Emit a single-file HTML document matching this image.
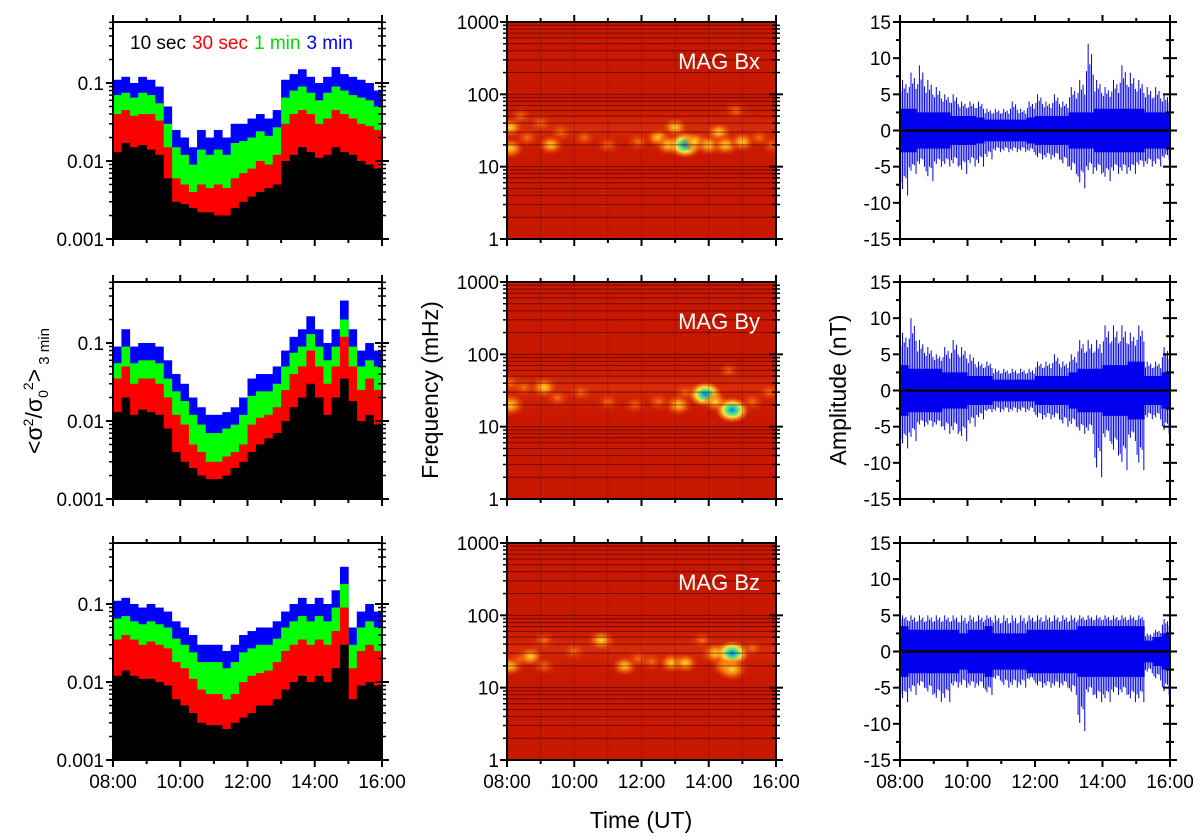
<!DOCTYPE html>
<html><head><meta charset="utf-8"><style>
body{margin:0;background:#fff;width:1200px;height:837px;overflow:hidden}
svg{display:block;font-family:"Liberation Sans",sans-serif}
</style></head><body>
<svg id="fig" width="1200" height="837" viewBox="0 0 1200 837" xmlns="http://www.w3.org/2000/svg">
<defs>
<radialGradient id="hot"><stop offset="0" stop-color="#ffd830"/><stop offset="0.4" stop-color="#ff9010" stop-opacity="0.85"/><stop offset="1" stop-color="#e03000" stop-opacity="0"/></radialGradient>
<radialGradient id="warm"><stop offset="0" stop-color="#ff8010" stop-opacity="0.85"/><stop offset="1" stop-color="#e03000" stop-opacity="0"/></radialGradient>
<radialGradient id="peak"><stop offset="0" stop-color="#1070ff"/><stop offset="0.25" stop-color="#20e0a0"/><stop offset="0.55" stop-color="#ffe040"/><stop offset="1" stop-color="#ff8000" stop-opacity="0"/></radialGradient>
<linearGradient id="band" x1="0" y1="0" x2="0" y2="1"><stop offset="0" stop-color="#d82000" stop-opacity="0"/><stop offset="0.5" stop-color="#e23810" stop-opacity="0.6"/><stop offset="1" stop-color="#d82000" stop-opacity="0"/></linearGradient>
</defs>
</svg>
<script>
// ---- data ----
const timeStartH = 8, timeEndH = 16;
const xTickLabels = ["08:00","10:00","12:00","14:00","16:00"];
const varTickLabels = ["0.1","0.01","0.001"];
const freqTickLabels = ["1000","100","10","1"];
const ampTickLabels = ["15","10","5","0","-5","-10","-15"];
const legendLabels = ["10 sec","30 sec","1 min","3 min"];
const components = ["MAG Bx","MAG By","MAG Bz"];

const blue1 = [0.11,0.12,0.10,0.12,0.11,0.09,0.05,0.025,0.02,0.015,0.025,0.02,0.025,0.02,0.03,0.03,0.035,0.04,0.035,0.045,0.11,0.13,0.15,0.12,0.10,0.12,0.16,0.13,0.12,0.11,0.10,0.08];
const green1 = [0.07,0.075,0.065,0.075,0.07,0.055,0.03,0.015,0.012,0.009,0.014,0.012,0.014,0.012,0.017,0.018,0.02,0.024,0.021,0.027,0.065,0.08,0.09,0.075,0.06,0.075,0.09,0.08,0.07,0.065,0.06,0.05];
const red1 = [0.04,0.045,0.038,0.04,0.04,0.033,0.015,0.006,0.005,0.004,0.005,0.0045,0.005,0.0045,0.006,0.007,0.008,0.01,0.009,0.012,0.03,0.04,0.045,0.04,0.03,0.035,0.045,0.04,0.035,0.03,0.028,0.025];
const black1 = [0.013,0.017,0.015,0.016,0.014,0.012,0.006,0.003,0.0028,0.0025,0.0022,0.0022,0.002,0.002,0.0025,0.003,0.0035,0.004,0.0045,0.005,0.01,0.012,0.015,0.013,0.011,0.012,0.015,0.013,0.012,0.01,0.009,0.008];

const blue2 = [0.09,0.15,0.09,0.1,0.1,0.09,0.06,0.04,0.03,0.02,0.015,0.012,0.012,0.013,0.015,0.02,0.035,0.04,0.04,0.05,0.08,0.12,0.15,0.22,0.15,0.1,0.15,0.35,0.15,0.08,0.1,0.08];
const green2 = [0.055,0.09,0.055,0.06,0.06,0.055,0.035,0.024,0.018,0.012,0.009,0.007,0.007,0.008,0.009,0.012,0.021,0.024,0.024,0.03,0.05,0.075,0.09,0.13,0.09,0.06,0.09,0.2,0.09,0.05,0.06,0.05];
const red2 = [0.035,0.05,0.03,0.035,0.035,0.03,0.02,0.012,0.009,0.005,0.004,0.003,0.003,0.0035,0.004,0.005,0.009,0.011,0.012,0.015,0.025,0.04,0.05,0.08,0.05,0.03,0.05,0.12,0.05,0.025,0.035,0.025];
const black2 = [0.013,0.02,0.012,0.014,0.013,0.012,0.008,0.004,0.003,0.0025,0.002,0.0018,0.0018,0.002,0.0025,0.003,0.004,0.005,0.006,0.007,0.01,0.015,0.02,0.03,0.02,0.012,0.02,0.035,0.018,0.01,0.012,0.009];

const blue3 = [0.11,0.12,0.1,0.09,0.1,0.09,0.08,0.06,0.05,0.04,0.03,0.03,0.03,0.025,0.03,0.04,0.045,0.05,0.05,0.06,0.08,0.1,0.12,0.1,0.12,0.1,0.15,0.3,0.05,0.08,0.1,0.08];
const green3 = [0.065,0.07,0.06,0.055,0.06,0.055,0.05,0.036,0.03,0.024,0.018,0.018,0.018,0.015,0.018,0.024,0.027,0.03,0.03,0.036,0.05,0.06,0.07,0.06,0.07,0.06,0.09,0.18,0.03,0.05,0.06,0.05];
const red3 = [0.035,0.04,0.035,0.03,0.033,0.03,0.027,0.018,0.015,0.011,0.008,0.007,0.007,0.006,0.007,0.01,0.012,0.013,0.014,0.018,0.025,0.03,0.035,0.03,0.035,0.03,0.045,0.09,0.015,0.025,0.03,0.025];
const black3 = [0.012,0.014,0.012,0.011,0.011,0.01,0.009,0.006,0.005,0.004,0.003,0.0028,0.0028,0.0025,0.003,0.0035,0.004,0.005,0.005,0.006,0.008,0.01,0.012,0.01,0.012,0.01,0.015,0.03,0.006,0.009,0.01,0.009];

const blobT1 = [8.1,8.1,8.4,8.6,9.0,9.3,9.6,10.3,11.0,11.9,12.5,12.8,13.0,13.3,13.6,14.0,14.3,14.5,14.8,15.0,15.5,15.9];
const blobF1 = [18,35,50,25,40,20,30,25,20,22,25,20,35,20,22,20,30,20,60,22,25,20];
const blobI1 = [0.7,0.6,0.5,0.5,0.5,0.6,0.5,0.4,0.5,0.5,0.6,0.7,0.6,1.0,0.7,0.7,0.6,0.7,0.5,0.6,0.5,0.5];
const blobT2 = [8.1,8.1,8.5,9.1,9.5,10.2,11.0,11.8,12.5,13.1,13.3,13.9,14.2,14.7,14.6,15.3,15.8];
const blobF2 = [20,40,35,35,25,30,22,20,22,20,30,28,22,17,60,22,30];
const blobI2 = [0.8,0.5,0.5,0.7,0.5,0.4,0.4,0.4,0.5,0.7,0.5,1.0,0.6,1.0,0.4,0.5,0.4];
const blobT3 = [8.1,8.4,8.7,9.1,9.1,10.0,10.8,11.5,11.9,12.3,12.9,13.3,13.8,14.2,14.5,14.7,14.7,15.3];
const blobF3 = [20,25,27,45,20,32,45,20,25,23,22,22,45,30,20,30,18,35];
const blobI3 = [0.6,0.5,0.6,0.5,0.5,0.5,0.7,0.6,0.5,0.5,0.6,0.6,0.5,0.8,0.7,1.0,0.9,0.4];

const core1 = [3,3,2.5,2.5,2.5,2.5,2,2,2,1.8,1.5,1.5,1.5,1.5,1.5,1.8,2,2,2,2,2.5,2.5,2.5,3,3,3,3,3,3,2.5,2.5,2.5];
const up1 = [7,8,9,7,6,5,5,4,4,4,3,3,3,4,3,4,5,4,5,4,6,7,12,7,6,7,9,8,7,6,6,5];
const down1 = [-9,-6,-5,-7,-5,-5,-5,-6,-5,-5,-4,-3,-3,-3,-3,-3,-4,-4,-4,-5,-6,-8,-6,-6,-7,-6,-6,-6,-5,-5,-5,-4];
const core2 = [3.5,3,3,3,3,2.5,2.5,2.5,2,2,2,1.5,1.5,1.5,1.5,1.5,2,2,2,2,2.5,3,3,3,3.5,3.5,3.5,4,4,2,2,2.5];
const up2 = [8,10,7,6,5,6,7,6,5,4,4,3,3,3,3,3,4,4,5,4,5,7,7,7,9,9,9,8,9,4,4,6];
const down2 = [-8,-7,-5,-5,-5,-6,-6,-7,-5,-4,-3,-3,-3,-3,-3,-3,-4,-4,-4,-5,-5,-6,-6,-12,-7,-9,-11,-7,-11,-4,-4,-6];
const core3 = [3.5,3,3,3,3,3,3,2.5,3,3,3.5,2.5,2.5,2.5,2.5,3,3,3,3,3,3,3.5,3.5,3.5,3.5,3.5,3.5,3.5,3.5,1.5,2,2.5];
const up3 = [5,5,5,5,5,5,5,5,5,5,5,5,5,5,5,5,5,5,5,5,5,5,5,5,5,5,5,5,5,2.5,3,4.5];
const down3 = [-7,-6,-5,-6,-7,-7,-5,-5,-5,-5,-6,-4,-5,-5,-5,-4,-5,-5,-5,-5,-6,-11,-6,-7,-7,-6,-6,-7,-7,-3,-4,-6];

// ---- layout ----
const NS = "http://www.w3.org/2000/svg";
const svg = document.getElementById("fig");
const rowTop = [22,282,543], H = 217;
const colL = {x:113,w:269}, colM = {x:507,w:269}, colR = {x:900,w:270};
function mk(tag, attrs, parent){const e=document.createElementNS(NS,tag);for(const k in attrs)e.setAttribute(k,attrs[k]);(parent||svg).appendChild(e);return e;}
function txt(s, attrs, parent){const e=mk("text",attrs,parent);e.textContent=s;return e;}
function xScale(col,t){return col.x+(t-timeStartH)/(timeEndH-timeStartH)*col.w;}

const varSeries=[[black1,red1,green1,blue1],[black2,red2,green2,blue2],[black3,red3,green3,blue3]];
const blobs=[[blobT1,blobF1,blobI1],[blobT2,blobF2,blobI2],[blobT3,blobF3,blobI3]];
const amps=[[core1,up1,down1],[core2,up2,down2],[core3,up3,down3]];
const varColors=["#000000","#ff0000","#00ff00","#0000ff"];
const spikeFrac=[0.6,1,0.7,0.85,0.55];

function timeTicks(g,col,top,bot,labels){
  for(let i=0;i<=8;i++){
    const x=xScale(col,8+i), L=(i%2==0)?7:4;
    mk("line",{x1:x,y1:top,x2:x,y2:top-L,stroke:"#000","stroke-width":2},g);
    mk("line",{x1:x,y1:bot,x2:x,y2:bot+L,stroke:"#000","stroke-width":2},g);
  }
  if(labels){
    xTickLabels.forEach((s,i)=>{
      const t=txt(s,{x:xScale(col,8+2*i),y:bot+28,"font-size":19,"text-anchor":"middle"},g);
      
      
    });
  }
}

for(let r=0;r<3;r++){
  const top=rowTop[r], bot=top+H;
  // ----- left variance panel -----
  const gL=mk("g",{});
  
  
  const dec=78;
  const yV=v=>bot-(Math.log10(v)+3)*dec;
  const clipId="clipL"+r;
  const cp=mk("clipPath",{id:clipId});
  mk("rect",{x:colL.x,y:top,width:colL.w,height:H},cp);
  const bars=mk("g",{"clip-path":"url(#"+clipId+")"},gL);
  const n=blue1.length, bw=colL.w/n;
  for(let s=3;s>=0;s--){
    const arr=varSeries[r][s];
    arr.forEach((v,i)=>{
      const y=yV(v);
      const b=mk("rect",{x:colL.x+i*bw,y:y,width:bw+0.3,height:bot-y,fill:varColors[s]},bars);
      
      
    });
  }
  mk("rect",{x:colL.x,y:top,width:colL.w,height:H,fill:"none",stroke:"#000","stroke-width":2},gL);
  for(let d=-3;d<=-1;d++){
    for(let m=1;m<10;m++){
      const v=m*Math.pow(10,d), y=yV(v);
      if(y<top-0.5)continue;
      const L=m==1?7:4;
      mk("line",{x1:colL.x,y1:y,x2:colL.x-L,y2:y,stroke:"#000","stroke-width":m==1?2:1.5},gL);
      mk("line",{x1:colL.x+colL.w-L,y1:y,x2:colL.x+colL.w+L,y2:y,stroke:"#000","stroke-width":m==1?2:1.5},gL);
    }
  }
  varTickLabels.forEach((s,i)=>{
    const t=txt(s,{x:colL.x-9,y:yV(Math.pow(10,-1-i))+7,"font-size":19,"text-anchor":"end"},gL);
    
    
  });
  timeTicks(gL,colL,top,bot,r==2);
  if(r==0){
    const lg=txt("",{x:130,y:49,"font-size":19},gL);
    
    
    legendLabels.forEach((s,i)=>{
      const ts=mk("tspan",{fill:varColors[i]=="#00ff00"?"#00e000":varColors[i],dx:i?6:0},lg);ts.textContent=s;
      
      
    });
  }

  // ----- middle spectrogram -----
  const gM=mk("g",{});
  
  
  const fdec=H/3;
  const yF=f=>bot-Math.log10(f)*fdec;
  const cpm=mk("clipPath",{id:"clipM"+r});
  mk("rect",{x:colM.x,y:top,width:colM.w,height:H},cpm);
  const sp=mk("g",{"clip-path":"url(#clipM"+r+")"},gM);
  mk("rect",{x:colM.x,y:top,width:colM.w,height:H,fill:"#c81800"},sp);
  mk("rect",{x:colM.x,y:yF(90),width:colM.w,height:yF(13)-yF(90),fill:"url(#band)"},sp);
  const [bt,bf,bi]=blobs[r];
  bt.forEach((t,i)=>{
    const I=bi[i], rad=6+7*I;
    const e=mk("ellipse",{cx:xScale(colM,t),cy:yF(bf[i]),rx:rad*1.3,ry:rad,fill:I>=0.95?"url(#peak)":(I>=0.6?"url(#hot)":"url(#warm)")},sp);
    
    
  });
  for(let d=0;d<3;d++)for(let m=1;m<10;m++){
    const y=yF(m*Math.pow(10,d));
    mk("line",{x1:colM.x,y1:y,x2:colM.x+colM.w,y2:y,stroke:"#400000","stroke-opacity":0.6,"stroke-width":1},sp);
  }
  for(let h=9;h<16;h++){const x=xScale(colM,h);mk("line",{x1:x,y1:top,x2:x,y2:bot,stroke:"#600000","stroke-opacity":0.3,"stroke-width":1},sp);}
  mk("rect",{x:colM.x,y:top,width:colM.w,height:H,fill:"none",stroke:"#000","stroke-width":2},gM);
  for(let d=0;d<3;d++)for(let m=1;m<10;m++){
    const y=yF(m*Math.pow(10,d)), L=m==1?7:4;
    mk("line",{x1:colM.x,y1:y,x2:colM.x-L,y2:y,stroke:"#000","stroke-width":m==1?2:1.5},gM);
    mk("line",{x1:colM.x+colM.w-L,y1:y,x2:colM.x+colM.w+L,y2:y,stroke:"#000","stroke-width":m==1?2:1.5},gM);
  }
  mk("line",{x1:colM.x,y1:top,x2:colM.x-7,y2:top,stroke:"#000","stroke-width":2},gM);
  freqTickLabels.forEach((s,i)=>{
    const t=txt(s,{x:colM.x-8,y:yF(Math.pow(10,3-i))+7,"font-size":19,"text-anchor":"end"},gM);
    
    
  });
  timeTicks(gM,colM,top,bot,r==2);
  const ct=txt(components[r],{x:colM.x+colM.w-16,y:top+47,"font-size":22,fill:"#fff","text-anchor":"end"},gM);
  
  

  // ----- right amplitude -----
  const gR=mk("g",{});
  
  
  const yA=a=>top+(15-a)/30*H;
  const [core,up,down]=amps[r];
  const nb=core.length, bwr=colR.w/nb;
  let pts=[];
  core.forEach((c,i)=>{pts.push([colR.x+i*bwr,yA(c)],[colR.x+(i+1)*bwr,yA(c)]);});
  for(let i=nb-1;i>=0;i--){pts.push([colR.x+(i+1)*bwr,yA(-core[i])],[colR.x+i*bwr,yA(-core[i])]);}
  const band=mk("polygon",{points:pts.map(p=>p.join(",")).join(" "),fill:"#0000ee"},gR);
  
  
  up.forEach((u,i)=>{
    spikeFrac.forEach((f,k)=>{
      const x=colR.x+(i+(k+0.5)/spikeFrac.length)*bwr;
      const fu=spikeFrac[k], fd=spikeFrac[(k+2)%spikeFrac.length];
      const l=mk("line",{x1:x,y1:yA(core[i]+(u-core[i])*fu),x2:x,y2:yA(-core[i]+(down[i]+core[i])*fd),stroke:"#0000ee","stroke-width":1},gR);
      
      
    });
  });
  mk("line",{x1:colR.x,y1:yA(0),x2:colR.x+colR.w,y2:yA(0),stroke:"#000","stroke-width":2.5},gR);
  mk("rect",{x:colR.x,y:top,width:colR.w,height:H,fill:"none",stroke:"#000","stroke-width":2},gR);
  for(let a=-15;a<=15;a+=2.5){
    const y=yA(a), maj=(a%5==0), L=maj?7:4;
    mk("line",{x1:colR.x,y1:y,x2:colR.x-L,y2:y,stroke:"#000","stroke-width":2},gR);
    mk("line",{x1:colR.x+colR.w-L,y1:y,x2:colR.x+colR.w+L,y2:y,stroke:"#000","stroke-width":2},gR);
  }
  ampTickLabels.forEach((s,i)=>{
    const t=txt(s,{x:colR.x-9,y:yA(15-5*i)+7,"font-size":19,"text-anchor":"end"},gR);
    
    
  });
  timeTicks(gR,colR,top,bot,r==2);
}

// axis titles
const t1=txt("",{transform:"translate(42,391) rotate(-90)","font-size":23,"text-anchor":"middle"});


t1.innerHTML='&lt;σ<tspan dy="-9" font-size="14">2</tspan><tspan dy="9">/σ</tspan><tspan dy="6" font-size="14">0</tspan><tspan dy="-15" font-size="14">2</tspan><tspan dy="9">&gt;</tspan><tspan dy="7" font-size="15"> 3 min</tspan>';
const t2=txt("Frequency (mHz)",{transform:"translate(438,390) rotate(-90)","font-size":23,"text-anchor":"middle"});


const t3=txt("Amplitude (nT)",{transform:"translate(846,390) rotate(-90)","font-size":23,"text-anchor":"middle"});


const t4=txt("Time (UT)",{x:641,y:828,"font-size":23,"text-anchor":"middle"});


</script>
</body></html>
